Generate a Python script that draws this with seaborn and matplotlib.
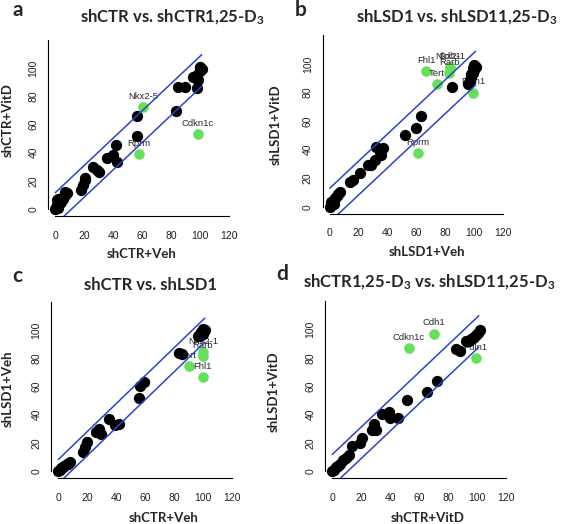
import matplotlib
matplotlib.use("Agg")
import matplotlib.pyplot as plt
import seaborn as sns

# ---- data (percent values) ----
# a: shCTR+Veh (x) vs shCTR+VitD (y)
a_black_x = [0, 0.5, 1, 1.5, 2, 2, 3, 3, 4, 5, 6, 7, 7, 8, 1, 2,
             18, 19, 20.5, 20.5, 26, 28.5, 30.5, 35.5, 40, 42.3, 42, 56.6, 56.6,
             83.2, 84.8, 89.4, 95.2, 98, 98.7, 99.8, 99.5, 101, 98, 100, 97]
a_black_y = [0, 1, 2, 3, 1, 5, 4, 6, 5, 7, 9, 10, 12, 11, 6, 7,
             13.5, 17, 20.6, 21.8, 30, 27.7, 26, 36, 38.3, 33.6, 45.4, 51.8, 66,
             69.5, 86.8, 86.8, 93.8, 85.6, 91.5, 101, 97.7, 99, 95, 100, 93]
a_green_x = [60.7, 57.6, 98.2]
a_green_y = [72.1, 38.8, 53]
a_labels = ["Nkx2-5", "Rprm", "Cdkn1c"]
a_fit = (0.25, 0.97, 11.25)   # intercept, slope, band half-width

# b: shLSD1+Veh (x) vs shLSD1+VitD (y)
b_black_x = [0, 1, 2, 3, 4, 5, 6, 6.9, 3, 1,
             13.8, 16.2, 20.8, 26.5, 28.8, 31.2, 32.3, 34.6, 36.9, 35.8,
             51.9, 60, 63.4, 84.5,
             96, 97, 98, 99, 100, 101, 100, 99, 98, 97]
b_black_y = [0, 1.5, 3, 4.5, 6, 7.5, 9, 10.5, 2, 3,
             17.5, 19, 23.4, 29.2, 29.2, 32.7, 42, 38.5, 40.8, 36.2,
             50.2, 55.4, 63.6, 84.1,
             86, 88, 91, 94, 96, 98, 99, 97, 93, 89]
b_green_x = [61.1, 66.9, 74.3, 82.8, 83.5, 83.1, 99.2]
b_green_y = [37.4, 95.1, 86, 93.7, 97.9, 97.5, 79.9]
b_labels = ["Rprm", "Fhl1", "Tert", "Rarb", "Nkx2-1", "Cdh1", "Pdln1"]
b_fit = (1.05, 0.95, 11.85)

# c: shCTR+Veh (x) vs shLSD1+Veh (y)
c_black_x = [0, 1, 2, 3, 4, 5.7, 7.9, 6.5,
             17.2, 18.3, 19.9, 26.3, 28.2, 29.8, 35, 38.9, 41.9,
             56, 56.5, 59.4, 83.5, 85.3,
             96.3, 98.6, 100.9, 97.4, 99.7, 100, 98]
c_black_y = [0, 1, 2, 3, 4, 5.5, 6.6, 5,
             13.8, 17.3, 20.9, 27.9, 30.2, 26.7, 37.3, 32.6, 33.8,
             51.9, 60.4, 63.2, 83.9, 83.2,
             95.7, 98.5, 99.7, 97.3, 100.8, 97, 96]
c_green_x = [89.8, 99.7, 99.7, 99.7]
c_green_y = [74.3, 81.7, 84.5, 66.7]
c_labels = ["Tert", "Rarb", "Nkx2-1", "Fhl1"]
c_fit = (-0.2, 0.99, 8.5)

# d: shCTR+VitD (x) vs shLSD1+VitD (y)
d_black_x = [0, 1, 2.8, 5.1, 7.4, 9.7, 11.5, 4,
             13.8, 18.9, 20.7, 27.6, 28.5, 30.4, 34.5, 39.1, 39.5, 45.3,
             51.7, 65.5, 72.2, 85.5, 87.8,
             92.4, 95.9, 99.4, 101.7, 100.5, 94, 98, 97]
d_black_y = [0, 1, 3, 5.4, 7.8, 9.4, 11.4, 4,
             17.8, 19.7, 23.7, 29.1, 33.1, 29.1, 40.8, 42, 37.3, 37.3,
             50.3, 56.1, 63.9, 86.3, 84.9,
             91.9, 93.3, 96.2, 99.7, 97.4, 92, 95, 94]
d_green_x = [52.9, 69.9, 98.9]
d_green_y = [87.2, 97.3, 79.7]
d_labels = ["Cdkn1c", "Cdh1", "Pdln1"]
d_fit = (0.8, 0.97, 11.1)

fit_x = [0, 101]

sns.set_style("white")
plt.rcParams["font.family"] = ["Liberation Sans", "DejaVu Sans"]
plt.rcParams["mathtext.fontset"] = "custom"
plt.rcParams["mathtext.rm"] = "Lato:bold"
plt.rcParams["mathtext.it"] = "Lato:bold"
plt.rcParams["mathtext.bf"] = "Lato:bold"

W, H = 567, 524
fig = plt.figure(figsize=(W / 100, H / 100), dpi=100)
fig.patch.set_facecolor("white")

GREEN = "#66e05a"
BLUE = "#2c44c6"


def px_axes(l, r, t, b):
    return fig.add_axes([l / W, 1 - b / H, (r - l) / W, (b - t) / H])


def panel(ax, bx, by, gx, gy, labels, fit):
    sns.scatterplot(x=gx, y=gy, ax=ax, color=GREEN, s=58, linewidth=0, zorder=2)
    for x, y, t in zip(gx, gy, labels):
        ax.annotate(t, (x, y), xytext=(0, 4.5), textcoords="offset points",
                    ha="center", va="bottom", fontsize=6.8, color="#2a2a2a", zorder=3)
    sns.scatterplot(x=bx, y=by, ax=ax, color="black", s=66, linewidth=0, zorder=4)
    b0, b1, hw = fit
    for off in (hw, -hw):
        ax.plot(fit_x, [b0 + off + b1 * x for x in fit_x], color=BLUE, lw=1.1, zorder=5)
    ax.set_xlim(-5, 125)
    ax.set_ylim(-5, 125)
    sns.despine(ax=ax)
    ax.spines["left"].set_bounds(0, 120)
    ax.spines["bottom"].set_bounds(0, 120)
    for s in ("left", "bottom"):
        ax.spines[s].set_linewidth(0.8)
        ax.spines[s].set_color("black")
    ticks = [0, 20, 40, 60, 80, 100, 120]
    ax.set_xticks(ticks)
    ax.set_yticks(ticks)
    ax.set_yticklabels([str(t) for t in ticks[:-1]] + [""], rotation=90, va="center")
    ax.tick_params(axis="both", direction="out", length=4, width=0.8,
                   labelsize=7.5, colors="black", labelcolor="#222222")
    ax.tick_params(axis="x", pad=6.5)
    ax.tick_params(axis="y", pad=3)
    ax.set_xlabel("")
    ax.set_ylabel("")
    ax.set_facecolor("white")


ax_a = px_axes(48, 236.5, 32.8, 216)
ax_b = px_axes(322.5, 510.2, 28.3, 213.8)
ax_c = px_axes(51, 239.6, 294.5, 478.4)
ax_d = px_axes(325, 513.6, 294.3, 478.4)

panel(ax_a, a_black_x, a_black_y, a_green_x, a_green_y, a_labels, a_fit)
panel(ax_b, b_black_x, b_black_y, b_green_x, b_green_y, b_labels, b_fit)
panel(ax_c, c_black_x, c_black_y, c_green_x, c_green_y, c_labels, c_fit)
panel(ax_d, d_black_x, d_black_y, d_green_x, d_green_y, d_labels, d_fit)


def ftext(x, y, s, **kw):
    fig.text(x / W, 1 - y / H, s, **kw)


tkw = dict(fontfamily="Lato", fontweight="bold", fontsize=12, ha="center", va="baseline")
ftext(172, 22, "shCTR vs. shCTR1,25-D$_3$", **tkw)
ftext(457, 22, "shLSD1 vs. shLSD11,25-D$_3$", **tkw)
ftext(150.5, 290, "shCTR vs. shLSD1", **tkw)
ftext(429, 287, "shCTR1,25-D$_3$ vs. shLSD11,25-D$_3$", **tkw)

lkw = dict(fontfamily="Lato", fontweight="bold", fontsize=15, ha="center", va="baseline")
ftext(18, 16, "a", **lkw)
ftext(301, 16, "b", **lkw)
ftext(17, 282, "c", **lkw)
ftext(282, 280, "d", **lkw)

xkw = dict(fontfamily="Lato", fontweight="bold", fontsize=9.5, ha="center", va="center")
ftext(142, 254, "shCTR+Veh", **xkw)
ftext(427, 252, "shLSD1+Veh", **xkw)
ftext(164, 518, "shCTR+Veh", **xkw)
ftext(428, 518, "shCTR+VitD", **xkw)
ftext(8, 120, "shCTR+VitD", rotation=90, **xkw)
ftext(276, 125, "shLSD1+VitD", rotation=90, **xkw)
ftext(8, 389, "shLSD1+Veh", rotation=90, **xkw)
ftext(274, 392, "shLSD1+VitD", rotation=90, **xkw)

fig.savefig("out.png", dpi=100)
